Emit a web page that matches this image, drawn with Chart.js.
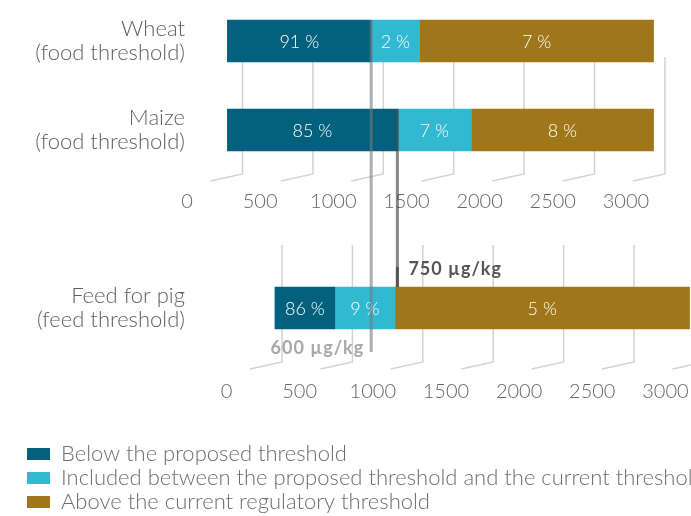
<!DOCTYPE html>
<html>
<head>
<meta charset="utf-8">
<script src="https://cdn.jsdelivr.net/npm/chart.js@4"></script>
<style>
  html, body { margin: 0; padding: 0; background: #fff; overflow: hidden; }
  #wrap { width: 691px; height: 516px; overflow: hidden; }
</style>
</head>
<body>
<div id="wrap"><canvas id="chart" width="691" height="530"></canvas></div>
<script>
const categories = [['Wheat', '(food threshold)'], ['Maize', '(food threshold)'], '', ['Feed for pig', '(feed threshold)']];
const seriesNames = [
  'Below the proposed threshold',
  'Included between the proposed threshold and the current threshold',
  'Above the current regulatory threshold'
];
const colors = ['#03617e', '#31b9d1', '#9f771a'];

// upper panel (food), ranges on the upper axis
const foodBelow = [[276, 1259], [276, 1438]];
const foodIncluded = [[1259, 1590], [1438, 1944]];
const foodAbove = [[1590, 3189], [1944, 3189]];
const wheatPct = [91, 2, 7];
const maizePct = [85, 7, 8];

// lower panel (feed), ranges on the lower axis
const feedBelow = [331, 740];
const feedIncluded = [740, 1152];
const feedAbove = [1152, 3165];
const feedPct = [86, 9, 5];

const tickValues = [0, 500, 1000, 1500, 2000, 2500, 3000];
const thresholdLabels = ['600 µg/kg', '750 µg/kg'];
const thresholdValues = [1259, 1438];

const FONT = 'Lato';

const foodSets = [foodBelow, foodIncluded, foodAbove];
const feedSets = [feedBelow, feedIncluded, feedAbove];
const datasets = [];
seriesNames.forEach((name, i) => {
  datasets.push({
    label: name, xAxisID: 'x', backgroundColor: colors[i],
    data: [foodSets[i][0], foodSets[i][1], null, null],
    pct: [wheatPct[i], maizePct[i], null, null]
  });
});
seriesNames.forEach((name, i) => {
  datasets.push({
    label: name, xAxisID: 'x2', backgroundColor: colors[i],
    data: [null, null, null, feedSets[i]],
    pct: [null, null, null, feedPct[i]]
  });
});

const decor = {
  id: 'decor',
  beforeDatasetsDraw(chart) {
    const { ctx, scales } = chart;
    const y = scales.y;
    const groups = [
      { s: scales.x, top: y.getPixelForValue(0) + 16, bottom: y.getPixelForValue(1) + 44, labels: true },
      { s: scales.x2, top: y.getPixelForValue(3) - 63, bottom: y.getPixelForValue(3) + 54, labels: false }
    ];
    ctx.save();
    groups.forEach(g => {
      const p0 = g.s.getPixelForValue(0);
      tickValues.forEach(v => {
        const p = g.s.getPixelForValue(v);
        const gx = p0 + 55.5 + (p - p0) * 0.9625;
        ctx.strokeStyle = '#d3d3d3';
        ctx.lineWidth = 1.5;
        ctx.beginPath();
        ctx.moveTo(gx, g.top);
        ctx.lineTo(gx, g.bottom);
        ctx.lineTo(gx - 32, g.bottom + 7);
        ctx.stroke();
        if (g.labels) {
          ctx.fillStyle = '#666';
          ctx.font = `300 20px ${FONT}`;
          ctx.textAlign = 'center';
          ctx.textBaseline = 'middle';
          ctx.fillText(String(v), p, g.bottom + 28);
        }
      });
    });
    ctx.restore();
  },
  afterDatasetsDraw(chart) {
    const { ctx, scales } = chart;
    const y = scales.y;
    ctx.save();
    // percentages inside the bars
    ctx.fillStyle = '#fff';
    ctx.font = `300 18px ${FONT}`;
    ctx.textAlign = 'center';
    ctx.textBaseline = 'middle';
    chart.data.datasets.forEach((ds, di) => {
      chart.getDatasetMeta(di).data.forEach((el, i) => {
        if (ds.data[i] == null) return;
        ctx.fillText(ds.pct[i] + ' %', (el.x + el.base) / 2, el.y + 1);
      });
    });
    // threshold markers
    const xa = scales.x;
    const lightX = xa.getPixelForValue(thresholdValues[0]);
    const darkX = xa.getPixelForValue(thresholdValues[1]);
    const yW = y.getPixelForValue(0), yM = y.getPixelForValue(1), yF = y.getPixelForValue(3);
    ctx.lineWidth = 3;
    ctx.strokeStyle = 'rgba(120,120,120,0.6)';
    ctx.beginPath(); ctx.moveTo(lightX, yW - 21); ctx.lineTo(lightX, yF + 44); ctx.stroke();
    ctx.strokeStyle = 'rgba(70,70,70,0.65)';
    ctx.beginPath(); ctx.moveTo(darkX, yM - 21); ctx.lineTo(darkX, yF - 21); ctx.stroke();
    ctx.strokeStyle = '#555';
    ctx.beginPath(); ctx.moveTo(darkX, yF - 41); ctx.lineTo(darkX, yF - 21); ctx.stroke();

    ctx.font = `bold 18px ${FONT}`;
    ctx.letterSpacing = '1px';
    ctx.textBaseline = 'middle';
    ctx.fillStyle = '#555';
    ctx.textAlign = 'left';
    ctx.fillText(thresholdLabels[1], darkX + 11, yF - 39);
    ctx.fillStyle = '#a8a8a8';
    ctx.textAlign = 'right';
    ctx.fillText(thresholdLabels[0], lightX - 7, yF + 40);
    ctx.restore();
  }
};

new Chart(document.getElementById('chart'), {
  type: 'bar',
  data: { labels: categories, datasets },
  options: {
    responsive: false,
    animation: false,
    indexAxis: 'y',
    barThickness: 42,
    grouped: false,
    borderWidth: 0,
    clip: false,
    layout: { autoPadding: false, padding: { left: 25, right: 0, top: 41, bottom: 7 } },
    scales: {
      y: {
        type: 'category',
        offset: false,
        grid: { display: false, drawTicks: false, offset: false },
        border: { display: false },
        ticks: { padding: 2, color: '#5f5f5f', font: { family: FONT, size: 22, weight: 300, lineHeight: 1.1 } },
        afterFit(s) { s.width = 162; }
      },
      x: { type: 'linear', display: false, min: 0, max: 3445 },
      x2: {
        type: 'linear', position: 'bottom', min: -270, max: 3175,
        grid: { display: true, drawOnChartArea: false, drawTicks: true, tickLength: 71, color: 'rgba(0,0,0,0)' },
        border: { display: false },
        afterBuildTicks(s) { s.ticks = tickValues.map(v => ({ value: v })); },
        afterFit(s) { s.height = 133; },
        ticks: {
          autoSkip: false, maxRotation: 0, padding: 1, color: '#666',
          font: { family: FONT, size: 20, weight: 300 },
          callback: v => String(v)
        }
      }
    },
    plugins: {
      legend: {
        position: 'bottom',
        align: 'start',
        labels: {
          boxWidth: 23, boxHeight: 12, padding: 2, color: '#6e6e6e',
          font: { family: FONT, size: 22, weight: 300 },
          filter: item => item.datasetIndex < 3
        }
      },
      tooltip: { enabled: false }
    }
  },
  plugins: [decor]
});
</script>
</body>
</html>
